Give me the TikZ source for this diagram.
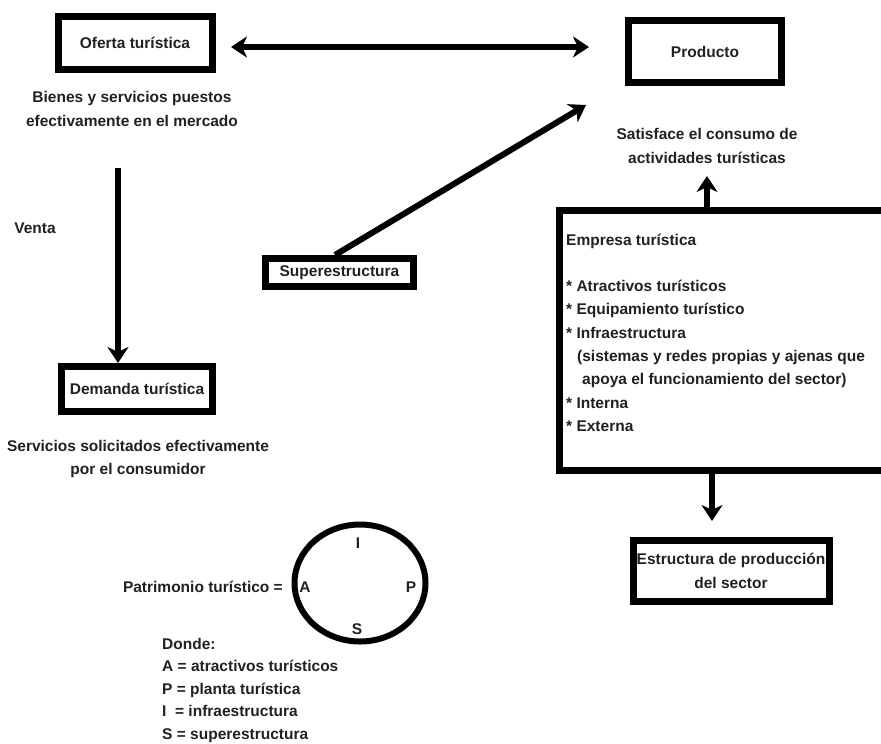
\documentclass[tikz,border=0pt]{standalone}
\usepackage{fontspec}
\setmainfont{Liberation Sans}
\usetikzlibrary{arrows.meta,shapes.geometric}
\begin{document}
\begin{tikzpicture}[x=1pt,y=-1pt,
  txt/.style={font=\fontsize{15.5}{23.3}\selectfont\bfseries, text=black!87, align=center},
  box/.style={draw,line width=7pt,rectangle,inner sep=2pt,txt},
  tip/.style={},
  arr/.style={line width=6pt,-{Stealth[length=16pt,width=21pt,inset=5pt]}},
  dbl/.style={line width=6pt,{Stealth[length=16pt,width=21pt,inset=5pt]}-{Stealth[length=16pt,width=21pt,inset=5pt]}},
]
\useasboundingbox (0,0) rectangle (881,744);
\fill[white] (0,0) rectangle (881,744);

% boxes
\node[box,minimum width=154pt,minimum height=53pt] (oferta) at (135,42.5) {Oferta turística};
\node[box,minimum width=153pt,minimum height=62pt] (producto) at (705,51.5) {Producto};
\node[box,minimum width=148pt,minimum height=28pt] (super) at (339.5,272.5) {Superestructura};
\node[box,minimum width=151pt,minimum height=45pt] (demanda) at (137,389) {Demanda turística};
\node[box,minimum width=196pt,minimum height=61pt] (estruct) at (731,571) {Estructura de producción\\del sector};
\node[draw,line width=7pt,rectangle,minimum width=341pt,minimum height=259.5pt,inner sep=0pt] (empresa) at (729.5,340.25) {};

% free texts
\node[txt] (bienes) at (132,109) {Bienes y servicios puestos\\efectivamente en el mercado};
\node[txt] (satis) at (707,146) {Satisface el consumo de\\actividades turísticas};
\node[txt] (venta) at (35,228) {Venta};
\node[txt] (servicios) at (138,459) {Servicios solicitados efectivamente\\por el consumidor};
\node[txt,align=left,anchor=north west,inner sep=0pt] (emptext) at (566,233.5) {Empresa turística\\[23.3pt]
* Atractivos turísticos\\
* Equipamiento turístico\\
* Infraestructura\\
\hspace*{11pt}(sistemas y redes propias y ajenas que\\
\hspace*{16pt}apoya el funcionamiento del sector)\\
* Interna\\
* Externa};

% patrimonio
\node[draw,ellipse,line width=6pt,minimum width=131pt,minimum height=117pt,inner sep=0pt] (circ) at (360,583) {};
\node[txt] (li) at (358,543) {I};
\node[txt] (la) at (305,587) {A};
\node[txt] (lp) at (411,587) {P};
\node[txt] (ls) at (357,629) {S};
\node[txt,anchor=east,inner sep=0pt] (patri) at (283,587) {Patrimonio turístico =};
\node[txt,font=\fontsize{15.5}{22.5}\selectfont\bfseries,align=left,anchor=north west,inner sep=0pt] (donde) at (162,638) {Donde:\\
A = atractivos turísticos\\
P = planta turística\\
I\ \ = infraestructura\\
S = superestructura};

% connectors
\draw[dbl] ([xshift=15.5pt,yshift=-4.5pt]oferta.east) -- ([xshift=-36pt,yshift=-4.5pt]oferta.east -| producto.west);
\draw[arr] ([xshift=-4.5pt]super.north) -- ([xshift=-39pt,yshift=-19pt]producto.south west);
\draw[arr] (empresa.north -| satis.south) -- ([yshift=31pt]empresa.north -| satis.south);
\draw[arr] ([xshift=-19pt]estruct.north |- empresa.south) -- ([xshift=-19pt,yshift=16pt]estruct.north);
\draw[arr] ([xshift=-19pt,yshift=195pt]demanda.north) -- ([xshift=-19pt]demanda.north);
\end{tikzpicture}
\end{document}
